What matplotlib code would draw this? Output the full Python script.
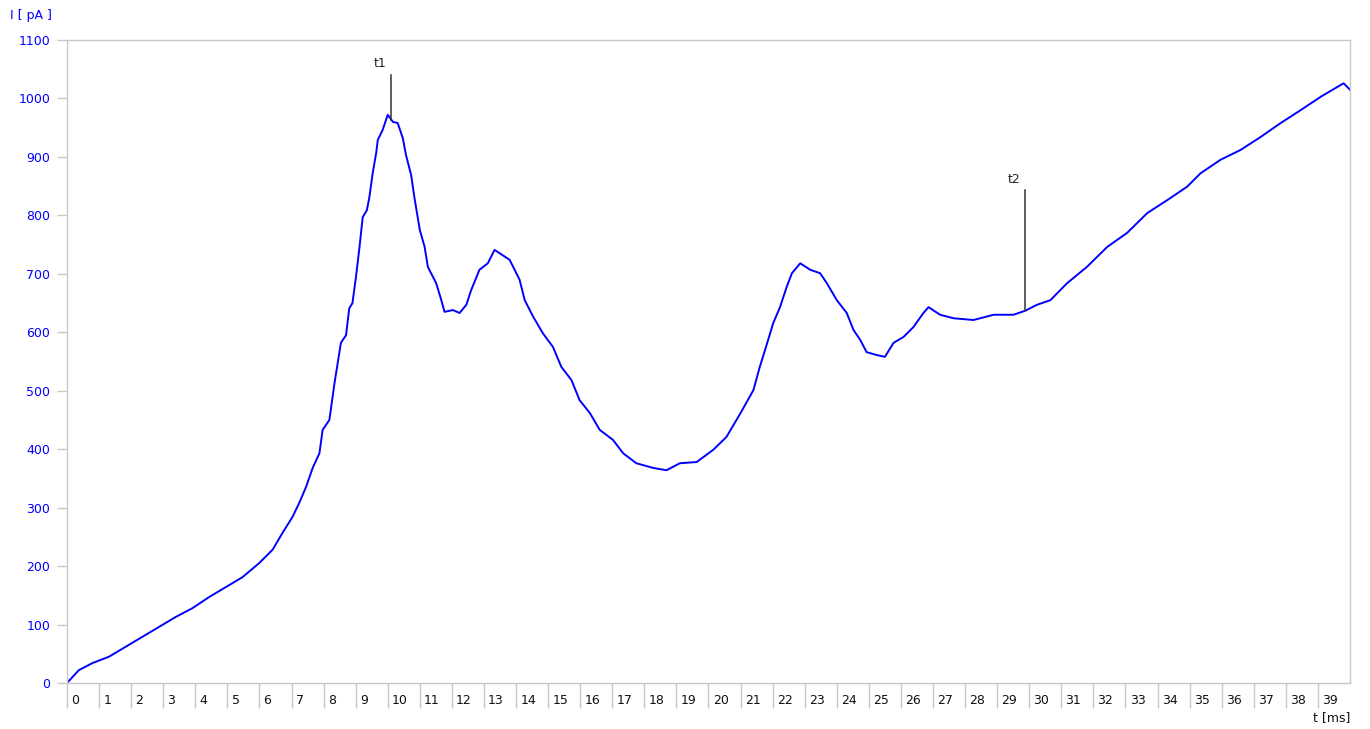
import matplotlib
matplotlib.use("Agg")
import matplotlib.pyplot as plt
import matplotlib.transforms as mtransforms

# time [ms] and current [pA]
t_ms = [0, 0.37, 0.79, 1.31, 1.83, 2.35, 2.87, 3.39, 3.91, 4.43, 4.95, 5.47,
        5.99, 6.41, 6.72, 7.03, 7.24, 7.45, 7.66, 7.87, 7.97, 8.18, 8.34,
        8.54, 8.70, 8.80, 8.90, 9.01, 9.12, 9.22, 9.35, 9.43, 9.53, 9.64,
        9.69, 9.84, 10.0, 10.16, 10.31, 10.47, 10.57, 10.73, 10.83, 11.0,
        11.15, 11.25, 11.51, 11.67, 11.77, 12.03, 12.24, 12.45, 12.6, 12.86,
        13.12, 13.33, 13.8, 14.11, 14.27, 14.53, 14.84, 15.15, 15.41, 15.73,
        15.98, 16.3, 16.61, 17.02, 17.34, 17.75, 18.27, 18.69, 19.11, 19.63,
        20.15, 20.56, 20.98, 21.4, 21.6, 21.81, 22.02, 22.23, 22.44, 22.6,
        22.86, 23.17, 23.48, 23.69, 24.0, 24.31, 24.52, 24.73, 24.93, 25.25,
        25.5, 25.77, 26.08, 26.39, 26.7, 26.86, 27.22, 27.64, 28.26, 28.89,
        29.51, 29.88, 30.24, 30.66, 31.18, 31.8, 32.43, 33.05, 33.68, 34.3,
        34.92, 35.34, 35.96, 36.59, 37.21, 37.84, 38.46, 39.09, 39.8, 40.0]
current_pa = [0, 22, 34, 45, 62, 79, 96, 113, 128, 147, 164, 181,
              205, 228, 257, 284, 308, 335, 368, 393, 433, 450, 513,
              582, 595, 641, 650, 695, 746, 797, 809, 832, 872, 907,
              929, 946, 972, 960, 958, 932, 903, 869, 831, 775,
              746, 712, 684, 655, 635, 638, 633, 647, 672, 707,
              718, 741, 724, 690, 655, 627, 598, 575, 541, 518,
              484, 462, 433, 416, 393, 376, 368, 364, 376, 378,
              399, 421, 460, 501, 541, 578, 616, 643, 678, 701,
              718, 707, 701, 684, 655, 633, 604, 587, 566, 561,
              558, 582, 592, 609, 633, 643, 630, 624, 621, 630,
              630, 637, 647, 655, 684, 712, 746, 770, 804, 826,
              849, 872, 895, 912, 934, 958, 980, 1003, 1026, 1015]

x_ticks = list(range(0, 40))
y_ticks = list(range(0, 1101, 100))

# cursor markers: (label, time, bottom, top)
markers = [("t1", 10.1, 963, 1040), ("t2", 29.88, 637, 843)]

frame = "#c8c8c8"
blue = "#0000ff"

fig = plt.figure(figsize=(13.7, 7.29), dpi=100)
ax = fig.add_axes([0.0489, 0.0631, 0.9365, 0.882])

ax.plot(t_ms, current_pa, color=blue, lw=1.4)

for name, tm, lo, hi in markers:
    ax.plot([tm, tm], [lo, hi], color="#333333", lw=1.1)
    ax.text(tm - 0.35, hi + 8, name, fontsize=9, color="#222222",
            ha="center", va="bottom")

ax.set_xlim(0, 40)
ax.set_ylim(0, 1100)

for s in ax.spines.values():
    s.set_color(frame)
    s.set_linewidth(1.0)

ax.set_yticks(y_ticks)
ax.tick_params(axis="y", length=7, width=1, color=frame, pad=5,
               labelsize=9, labelcolor=blue)

ax.set_xticks(x_ticks)
ax.set_xticklabels([str(v) for v in x_ticks])
ax.tick_params(axis="x", length=18, width=1, color=frame, pad=-10,
               labelsize=9, labelcolor="#111111")
offset = mtransforms.ScaledTranslation(3 / 72, 0, fig.dpi_scale_trans)
for lab in ax.get_xticklabels():
    lab.set_horizontalalignment("left")
    lab.set_transform(lab.get_transform() + offset)

fig.text(10 / 1370, 1 - 16 / 729, "I [ pA ]", color=blue, fontsize=9,
         ha="left", va="center")
fig.text(1350 / 1370, 1 - 718 / 729, "t [ms]", color="#111111", fontsize=9,
         ha="right", va="center")

fig.savefig("out.png", dpi=100, facecolor="white")
